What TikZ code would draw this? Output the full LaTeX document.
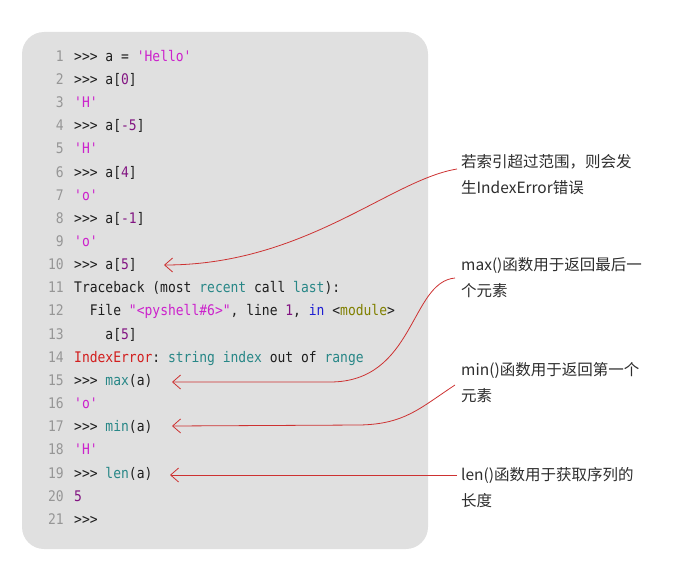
\documentclass[tikz,border=0pt]{standalone}
\usepackage{fontspec}
\setmonofont{DejaVu Sans Mono}[FakeStretch=0.89]
\newfontfamily\cjkfont{Noto Sans CJK SC}
\usetikzlibrary{arrows.meta}
\definecolor{boxgray}{RGB}{224,224,224}
\definecolor{lnum}{RGB}{150,150,150}
\definecolor{ctext}{RGB}{30,30,30}
\definecolor{ntext}{RGB}{45,45,45}
\definecolor{cstr}{RGB}{204,34,204}
\definecolor{cnum}{RGB}{130,20,130}
\definecolor{cbi}{RGB}{40,135,135}
\definecolor{ckw}{RGB}{30,30,210}
\definecolor{cmod}{RGB}{128,128,0}
\definecolor{cerr}{RGB}{210,30,30}
\definecolor{connred}{RGB}{205,50,50}
\newcommand\Sstr[1]{\textcolor{cstr}{#1}}
\newcommand\Snum[1]{\textcolor{cnum}{#1}}
\newcommand\Sbi[1]{\textcolor{cbi}{#1}}
\newcommand\Skw[1]{\textcolor{ckw}{#1}}
\newcommand\Smod[1]{\textcolor{cmod}{#1}}
\newcommand\Serr[1]{\textcolor{cerr}{#1}}
\begin{document}
\begin{tikzpicture}[x=1pt,y=-1pt,
  code/.style={inner sep=0pt, anchor=base west, text=ctext, font=\ttfamily\fontsize{14.6}{17}\selectfont},
  lno/.style={inner sep=0pt, anchor=base east, text=lnum, font=\ttfamily\fontsize{14.6}{17}\selectfont},
  note/.style={inner sep=0pt, anchor=base west, text=ntext, font=\cjkfont\fontsize{15.5}{26}\selectfont},
  conn/.style={draw=connred, line width=0.8pt, -{Straight Barb[length=8pt,width=14pt]}}]
\useasboundingbox (0,0) rectangle (695,567);
\fill[boxgray, rounded corners=22pt] (22,32) rectangle (428,549);
% line numbers
\foreach \i in {1,...,21}
  \node[lno] (n\i) at (64,{61.3+(\i-1)*23.15}) {\i};
% code lines
\node[code] (l1) at (74,61.3) {>>> a = \Sstr{'Hello'}};
\node[code] (l2) at (74,84.45) {>>> a[\Snum{0}]};
\node[code] (l3) at (74,107.6) {\Sstr{'H'}};
\node[code] (l4) at (74,130.75) {>>> a[\Snum{-5}]};
\node[code] (l5) at (74,153.9) {\Sstr{'H'}};
\node[code] (l6) at (74,177.05) {>>> a[\Snum{4}]};
\node[code] (l7) at (74,200.2) {\Sstr{'o'}};
\node[code] (l8) at (74,223.35) {>>> a[\Snum{-1}]};
\node[code] (l9) at (74,246.5) {\Sstr{'o'}};
\node[code] (l10) at (74,269.65) {>>> a[\Snum{5}]};
\node[code] (l11) at (74,292.8) {Traceback (most \Sbi{recent} call \Sbi{last}):};
\node[code] (l12) at (74,315.95) {\phantom{xx}File \Sstr{"<pyshell\#6>"}, line \Snum{1}, \Skw{in} <\Smod{module}>};
\node[code] (l13) at (74,339.1) {\phantom{xxxx}a[\Snum{5}]};
\node[code] (l14) at (74,362.25) {\Serr{IndexError}: \Sbi{string} \Sbi{index} out of \Sbi{range}};
\node[code] (l15) at (74,385.4) {>>> \Sbi{max}(a)};
\node[code] (l16) at (74,408.55) {\Sstr{'o'}};
\node[code] (l17) at (74,431.7) {>>> \Sbi{min}(a)};
\node[code] (l18) at (74,454.85) {\Sstr{'H'}};
\node[code] (l19) at (74,478) {>>> \Sbi{len}(a)};
\node[code] (l20) at (74,501.15) {\Snum{5}};
\node[code] (l21) at (74,524.3) {>>>};
% annotations
\node[note] (a1) at (461,167) {若索引超过范围，则会发};
\node[note] (a1b) at (461,193) {生IndexError错误};
\node[note] (a2) at (461,270) {max()函数用于返回最后一};
\node[note] (a2b) at (461,296) {个元素};
\node[note] (a3) at (461,375) {min()函数用于返回第一个};
\node[note] (a3b) at (461,401) {元素};
\node[note] (a4) at (461,480) {len()函数用于获取序列的};
\node[note] (a4b) at (461,506) {长度};
% connector endpoints
\coordinate (s1) at (457,169);
\coordinate (t10) at (164,265);
\coordinate (s2) at (455,278);
\coordinate (m15) at (330,382);
\coordinate (t15) at (172,382);
\coordinate (s3) at (455,385);
\coordinate (m17) at (360,425);
\coordinate (t17) at (172,426);
\coordinate (s4) at (457,475);
\coordinate (t19) at (170,475);
\draw[conn] (s1) .. controls (390,180) and (305,265) .. (t10);
\draw[conn] (s2) .. controls (410,282) and (415,382) .. (m15) -- (t15);
\draw[conn] (s3) .. controls (420,408) and (405,424) .. (m17) -- (t17);
\draw[conn] (s4) -- (t19);
\end{tikzpicture}
\end{document}
